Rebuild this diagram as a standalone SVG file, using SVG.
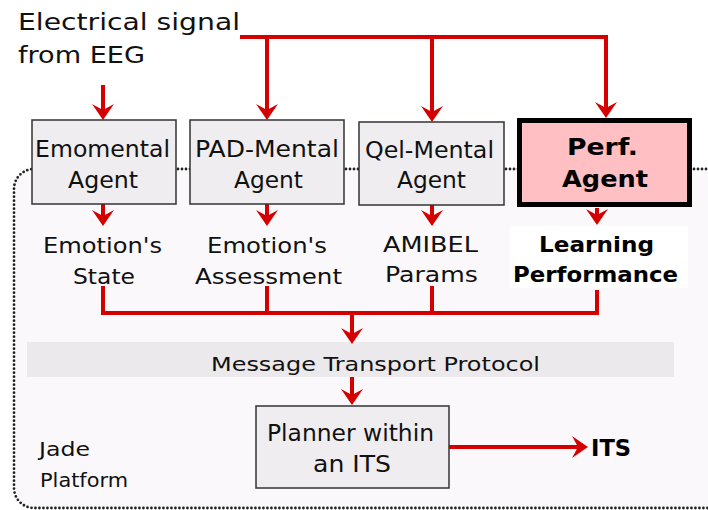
<svg xmlns="http://www.w3.org/2000/svg" width="708" height="510" viewBox="0 0 708 510">
<style>
text{font-family:"DejaVu Sans","Verdana",sans-serif;fill:#111}
.t23{font-size:23px}
.t22{font-size:22px}
.t19{font-size:19.5px}
.b{font-weight:bold;fill:#000}
.box{fill:#efedef;stroke:#333;stroke-width:1.5}
.red{fill:none;stroke:#d40000;stroke-width:4;stroke-linejoin:miter}
.arr{marker-end:url(#ah)}
</style>
<defs>
<marker id="ah" viewBox="-17 -12 19 24" refX="-10" refY="0" markerWidth="19" markerHeight="24" markerUnits="userSpaceOnUse" orient="auto">
<path d="M0,0 L-16,-11 L-10,0 L-16,11 Z" fill="#d40000"/>
</marker>
</defs>
<rect width="708" height="510" fill="#fff"/>
<g id="platform">
<rect x="14" y="169" width="730" height="339" rx="20" fill="#faf8fa" stroke="#222" stroke-width="2.8" stroke-dasharray="0 4" stroke-linecap="round"/>
<text class="t19" x="39" y="456" textLength="51" lengthAdjust="spacingAndGlyphs">Jade</text>
<text class="t19" x="40" y="487" textLength="88" lengthAdjust="spacingAndGlyphs">Platform</text>
</g>
<g id="mtp">
<rect x="27" y="342" width="647" height="35" fill="#ebe9eb"/>
<text class="t19" x="211" y="371" textLength="329" lengthAdjust="spacingAndGlyphs">Message Transport Protocol</text>
</g>
<g id="connectors">
<path class="red arr" d="M103,85 V110"/>
<path class="red arr" d="M240,37 H606 V108"/>
<path class="red arr" d="M267,37 V110"/>
<path class="red arr" d="M432,37 V112"/>
<path class="red arr" d="M103,204 V216"/>
<path class="red arr" d="M267,204 V216"/>
<path class="red arr" d="M432,205 V216"/>
<path class="red arr" d="M597,208 V215"/>
<path class="red" d="M103,286 V313 H597 V290"/>
<path class="red" d="M267,286 V313"/>
<path class="red" d="M432,286 V313"/>
<path class="red arr" d="M352,313 V334"/>
<path class="red arr" d="M352,377 V395"/>
<path class="red arr" d="M449,447 H578"/>
</g>
<g id="eeg">
<text class="t23" x="18" y="30" textLength="222" lengthAdjust="spacingAndGlyphs">Electrical signal</text>
<text class="t23" x="18" y="63" textLength="127" lengthAdjust="spacingAndGlyphs">from EEG</text>
</g>
<g id="emomental">
<rect class="box" x="32" y="120" width="144" height="84"/>
<text class="t23" x="35" y="157" textLength="135" lengthAdjust="spacingAndGlyphs">Emomental</text>
<text class="t23" x="68" y="188" textLength="70" lengthAdjust="spacingAndGlyphs">Agent</text>
</g>
<g id="pad">
<rect class="box" x="190" y="120" width="154" height="84"/>
<text class="t23" x="195" y="157" textLength="144" lengthAdjust="spacingAndGlyphs">PAD-Mental</text>
<text class="t23" x="234" y="188" textLength="69" lengthAdjust="spacingAndGlyphs">Agent</text>
</g>
<g id="qel">
<rect class="box" x="359" y="122" width="145" height="83"/>
<text class="t23" x="365" y="158" textLength="129" lengthAdjust="spacingAndGlyphs">Qel-Mental</text>
<text class="t23" x="397" y="188" textLength="69" lengthAdjust="spacingAndGlyphs">Agent</text>
</g>
<g id="perf">
<rect x="519.5" y="120.5" width="170" height="84" fill="#ffbfc3" stroke="#000" stroke-width="5"/>
<text class="t23 b" x="567" y="155" textLength="71" lengthAdjust="spacingAndGlyphs">Perf.</text>
<text class="t23 b" x="562" y="187" textLength="86" lengthAdjust="spacingAndGlyphs">Agent</text>
</g>
<g id="emotion-state">
<text class="t22" x="43" y="253" textLength="119" lengthAdjust="spacingAndGlyphs">Emotion's</text>
<text class="t22" x="73" y="284" textLength="62" lengthAdjust="spacingAndGlyphs">State</text>
</g>
<g id="emotion-assessment">
<text class="t22" x="207" y="253" textLength="120" lengthAdjust="spacingAndGlyphs">Emotion's</text>
<text class="t22" x="195" y="284" textLength="147" lengthAdjust="spacingAndGlyphs">Assessment</text>
</g>
<g id="amibel">
<text class="t22" x="383" y="252" textLength="95" lengthAdjust="spacingAndGlyphs">AMIBEL</text>
<text class="t22" x="385" y="282" textLength="93" lengthAdjust="spacingAndGlyphs">Params</text>
</g>
<g id="learning">
<rect x="510" y="226" width="178" height="62" fill="#fff"/>
<text class="t22 b" x="539" y="252" textLength="115" lengthAdjust="spacingAndGlyphs">Learning</text>
<text class="t22 b" x="513" y="282" textLength="165" lengthAdjust="spacingAndGlyphs">Performance</text>
</g>
<g id="planner">
<rect class="box" x="256" y="406" width="193" height="82"/>
<text class="t23" x="267" y="441" textLength="167" lengthAdjust="spacingAndGlyphs">Planner within</text>
<text class="t23" x="313" y="472" textLength="78" lengthAdjust="spacingAndGlyphs">an ITS</text>
</g>
<g id="its">
<text class="t23 b" x="591" y="456" textLength="40" lengthAdjust="spacingAndGlyphs">ITS</text>
</g>
</svg>
